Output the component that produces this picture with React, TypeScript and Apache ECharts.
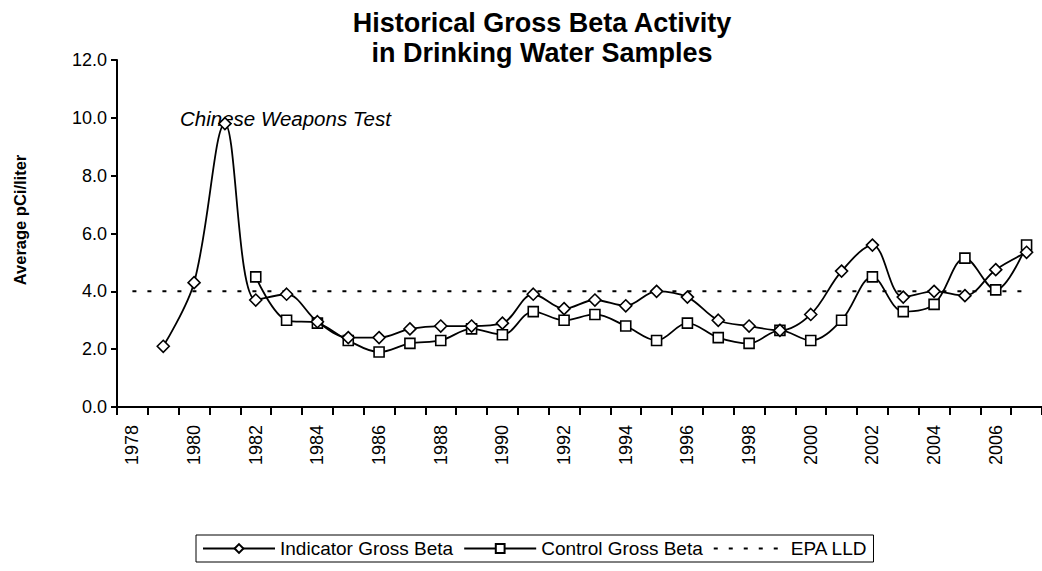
import React, { useEffect, useRef } from "react";
import * as echarts from "echarts";

const years = [
  "1978", "1979", "1980", "1981", "1982", "1983", "1984", "1985", "1986", "1987",
  "1988", "1989", "1990", "1991", "1992", "1993", "1994", "1995", "1996", "1997",
  "1998", "1999", "2000", "2001", "2002", "2003", "2004", "2005", "2006", "2007",
];

const indicatorGrossBeta = [
  null, 2.1, 4.3, 9.8, 3.7, 3.9, 2.95, 2.4, 2.4, 2.7,
  2.8, 2.8, 2.9, 3.9, 3.4, 3.7, 3.5, 4.0, 3.8, 3.0,
  2.8, 2.65, 3.2, 4.7, 5.6, 3.8, 4.0, 3.85, 4.75, 5.35,
];

const controlGrossBeta = [
  null, null, null, null, 4.5, 3.0, 2.9, 2.3, 1.9, 2.2,
  2.3, 2.7, 2.5, 3.3, 3.0, 3.2, 2.8, 2.3, 2.9, 2.4,
  2.2, 2.65, 2.3, 3.0, 4.5, 3.3, 3.55, 5.15, 4.05, 5.6,
];

const epaLLD = years.map(() => 4.0);

const FONT = "'Liberation Sans', Arial, Helvetica, sans-serif";

export default function App() {
  const ref = useRef<HTMLDivElement>(null);

  useEffect(() => {
    document.body.style.margin = "0";
    if (!ref.current) return;
    const chart = echarts.init(ref.current, null, { renderer: "svg" });
    chart.setOption({
      animation: false,
      backgroundColor: "#fff",
      textStyle: { fontFamily: FONT, color: "#000" },
      grid: { left: 117, top: 60, height: 347, width: 932 },
      graphic: [
        {
          type: "text",
          x: 542,
          y: 8,
          style: {
            text: "Historical Gross Beta Activity\nin Drinking Water Samples",
            font: `bold 27px ${FONT}`,
            lineHeight: 30,
            textAlign: "center",
            textVerticalAlign: "top",
            fill: "#000",
          },
        },
        {
          type: "text",
          x: 20,
          y: 220,
          rotation: Math.PI / 2,
          style: {
            text: "Average pCi/liter",
            font: `bold 16.5px ${FONT}`,
            textAlign: "center",
            textVerticalAlign: "middle",
            fill: "#000",
          },
        },
        {
          type: "text",
          x: 180,
          y: 118,
          style: {
            text: "Chinese Weapons Test",
            font: `italic 20.5px ${FONT}`,
            textAlign: "left",
            textVerticalAlign: "middle",
            fill: "#000",
          },
        },
      ],
      legend: {
        left: 196,
        top: 535,
        padding: [4, 6],
        borderColor: "#000",
        borderWidth: 1,
        itemWidth: 72,
        itemHeight: 11,
        itemGap: 10,
        textStyle: { fontFamily: FONT, fontSize: 19, color: "#000" },
        data: [
          "Indicator Gross Beta",
          "Control Gross Beta",
          { name: "EPA LLD", itemStyle: { opacity: 0 } },
        ],
      },
      xAxis: {
        type: "category",
        data: years,
        boundaryGap: true,
        axisLine: { lineStyle: { color: "#000", width: 2 } },
        axisTick: { show: true, interval: 0, length: 8, lineStyle: { color: "#000", width: 2 } },
        axisLabel: {
          interval: 1,
          rotate: 90,
          margin: 18,
          fontSize: 18,
          color: "#000",
          fontFamily: FONT,
        },
        splitLine: { show: false },
      },
      yAxis: {
        type: "value",
        min: 0,
        max: 12,
        interval: 2,
        axisLine: { show: true, lineStyle: { color: "#000", width: 2 } },
        axisTick: { show: true, length: 6, lineStyle: { color: "#000", width: 2 } },
        axisLabel: {
          margin: 10,
          fontSize: 18,
          color: "#000",
          fontFamily: FONT,
          formatter: (v: number) => v.toFixed(1),
        },
        splitLine: { show: false },
      },
      series: [
        {
          name: "EPA LLD",
          type: "line",
          data: epaLLD,
          symbol: "none",
          lineStyle: { color: "#000", width: 2, type: [4, 11] },
          itemStyle: { color: "#000" },
          z: 1,
        },
        {
          name: "Indicator Gross Beta",
          type: "line",
          data: indicatorGrossBeta,
          smooth: 0.35,
          connectNulls: false,
          symbol: "diamond",
          symbolSize: 12,
          lineStyle: { color: "#000", width: 1.8 },
          itemStyle: { color: "#fff", borderColor: "#000", borderWidth: 1.6 },
          z: 3,
        },
        {
          name: "Control Gross Beta",
          type: "line",
          data: controlGrossBeta,
          smooth: 0.35,
          connectNulls: false,
          symbol: "rect",
          symbolSize: 10,
          lineStyle: { color: "#000", width: 1.8 },
          itemStyle: { color: "#fff", borderColor: "#000", borderWidth: 1.6 },
          z: 2,
        },
      ],
    });
    return () => chart.dispose();
  }, []);

  return <div ref={ref} style={{ width: 1042, height: 571 }} />;
}
